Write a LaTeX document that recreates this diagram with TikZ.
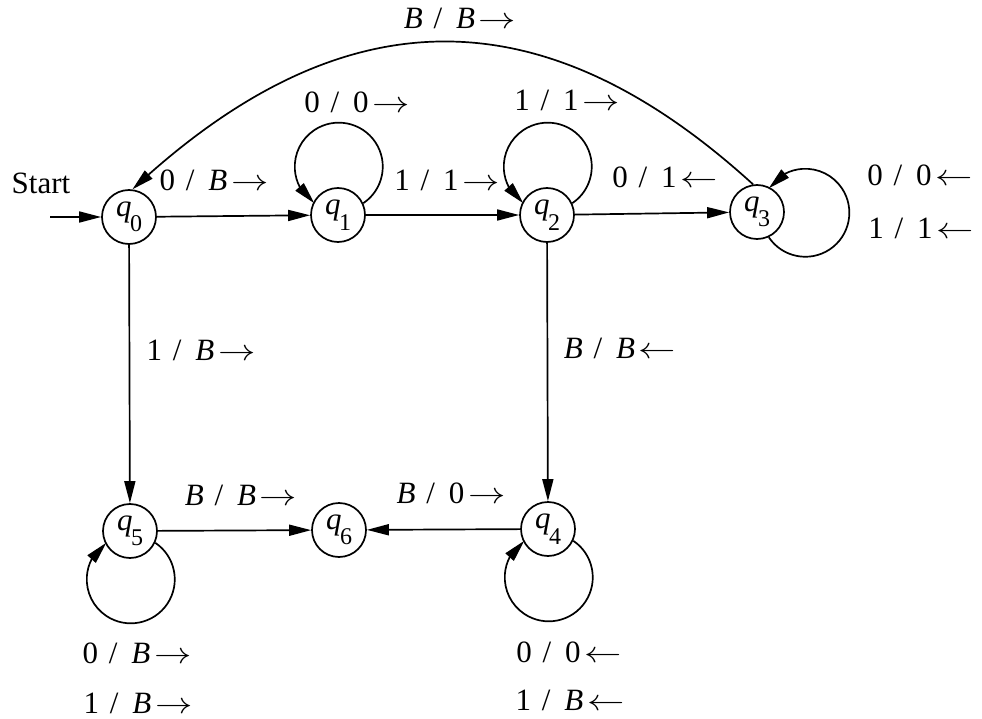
\documentclass[tikz,border=0pt]{standalone}
\usepackage{fontspec}
\setmainfont{Liberation Serif}
\usetikzlibrary{arrows.meta,bending}
\newcommand\myra{\scalebox{1.5}[1.2]{\fontsize{24.88}{28}\selectfont$\rightarrow$}}
\newcommand\myla{\scalebox{1.5}[1.2]{\fontsize{24.88}{28}\selectfont$\leftarrow$}}
\newcommand\trlab[3]{#1\hspace{.35em}/\hspace{.45em}#2\hspace{.12em}#3}
\newcommand\qs[1]{\textit{q}\kern-1.5pt\raisebox{-0.5em}{\fontsize{24}{24}\selectfont #1}}
\begin{document}
\begin{tikzpicture}[x=1pt,y=-1pt,
  state/.style={circle,draw,line width=1.7pt,minimum size=54pt,inner sep=0pt,font=\fontsize{31}{36}\selectfont},
  lab/.style={font=\fontsize{31}{36}\selectfont,inner sep=0pt},
  edge/.style={line width=1.7pt,-{Triangle[length=22pt,width=11pt]}},
  loopedge/.style={line width=1.7pt,-{Triangle[length=22pt,width=11pt,flex]}}]
\useasboundingbox (0,0) rectangle (982,719);
% states
\node[state] (q0) at (129,217) {\qs{0}};
\node[state] (q1) at (338,215) {\qs{1}};
\node[state] (q2) at (547,215) {\qs{2}};
\node[state] (q3) at (757,212) {\qs{3}};
\node[state] (q5) at (130,531) {\qs{5}};
\node[state] (q6) at (339,530) {\qs{6}};
\node[state] (q4) at (548,529) {\qs{4}};
% start
\coordinate (st) at (50,217);
\node[lab] (start) at (41,183) {Start};
\draw[edge] (st) -- (q0);
% straight edges
\draw[edge] (q0) -- (q1);
\draw[edge] (q1) -- (q2);
\draw[edge] (q2) -- (q3);
\draw[edge] (q0) -- (q5);
\draw[edge] (q2) -- (q4);
\draw[edge] (q5) -- (q6);
\draw[edge] (q4) -- (q6);
% big arc
\draw[edge] (q3.98) .. controls (543,-7) and (343,-7) .. (q0.83);
% loops
\draw[loopedge] (q1.25) arc[start angle=-56.2, end angle=236.2, radius=44pt];
\draw[loopedge] (q2.25) arc[start angle=-56.2, end angle=236.2, radius=44pt];
\draw[loopedge] (q3.-65) arc[start angle=-146.2, end angle=146.2, radius=44pt];
\draw[loopedge] (q5.-25) arc[start angle=56.2, end angle=-236.2, radius=44pt];
\draw[loopedge] (q4.-25) arc[start angle=56.2, end angle=-236.2, radius=44pt];
% labels
\node[lab] (l30) at (460,18) {\trlab{\textit{B}}{\textit{B}}{\myra}};
\node[lab] (l11) at (357,102) {\trlab{0}{0}{\myra}};
\node[lab] (l22) at (567,100) {\trlab{1}{1}{\myra}};
\node[lab] (l01) at (214,180) {\trlab{0}{\textit{B}}{\myra}};
\node[lab] (l12) at (447,180) {\trlab{1}{1}{\myra}};
\node[lab] (l23) at (665,177) {\trlab{0}{1}{\myla}};
\node[lab] (l33a) at (920,175) {\trlab{0}{0}{\myla}};
\node[lab] (l33b) at (921,228) {\trlab{1}{1}{\myla}};
\node[lab] (l05) at (201,350) {\trlab{1}{\textit{B}}{\myra}};
\node[lab] (l24) at (620,348) {\trlab{\textit{B}}{\textit{B}}{\myla}};
\node[lab] (l56) at (241,495) {\trlab{\textit{B}}{\textit{B}}{\myra}};
\node[lab] (l46) at (451,493) {\trlab{\textit{B}}{0}{\myra}};
\node[lab] (l55a) at (137,653) {\trlab{0}{\textit{B}}{\myra}};
\node[lab] (l55b) at (138,703) {\trlab{1}{\textit{B}}{\myra}};
\node[lab] (l44a) at (569,652) {\trlab{0}{0}{\myla}};
\node[lab] (l44b) at (570,700) {\trlab{1}{\textit{B}}{\myla}};
\end{tikzpicture}
\end{document}
